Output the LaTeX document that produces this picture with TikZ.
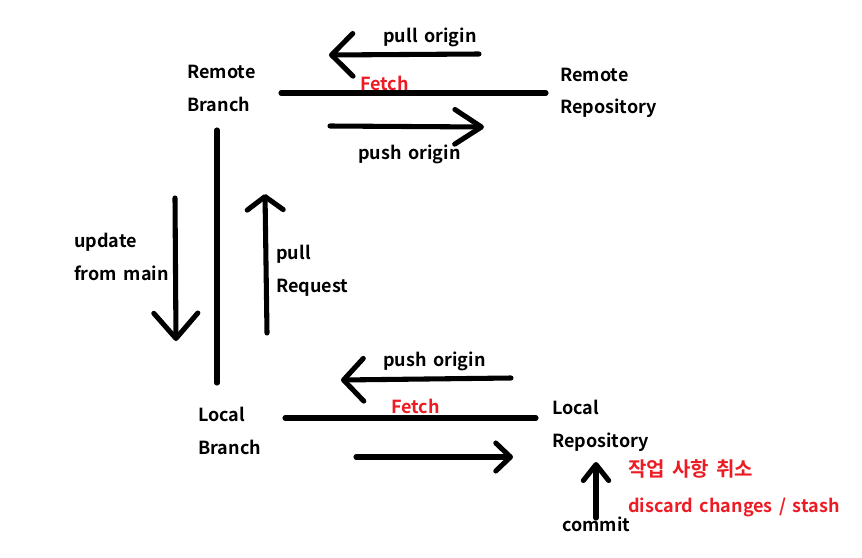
\documentclass[tikz,border=0pt]{standalone}
\usepackage{fontspec}
\setmainfont{Noto Sans CJK KR}[BoldFont={Noto Sans CJK KR Bold}, WordSpace=1.6]
\usetikzlibrary{arrows.meta}
\definecolor{paintred}{RGB}{237,28,36}
\tikzset{
  lbl/.style={anchor=base west, inner sep=0pt, font=\fontsize{13.5}{15}\selectfont\bfseries},
  redlbl/.style={lbl, text=paintred},
  stroke/.style={line width=3.8pt, line cap=round, line join=round},
  barb/.style n args={2}{stroke, -{Straight Barb[length=#1, width=#2, line cap=round, line join=round]}}
}
\begin{document}
\begin{tikzpicture}[x=0.75pt,y=-0.75pt]
\useasboundingbox[fill=white] (0,0) rectangle (862,557);
% text
\node[lbl] (rb1) at (187,78) {Remote};
\node[lbl] (rb2) at (187,111) {Branch};
\node[lbl] (rr1) at (560,81) {Remote};
\node[lbl] (rr2) at (560,113) {Repository};
\node[lbl] (po1) at (383,42) {pull origin};
\node[redlbl] (f1) at (360,90) {Fetch};
\node[lbl] (ps1) at (358,159) {push origin};
\node[lbl] (up1) at (74,247) {update};
\node[lbl] (up2) at (74,280) {from main};
\node[lbl] (pr1) at (276,259) {pull};
\node[lbl] (pr2) at (276,292) {Request};
\node[lbl] (lb1) at (198,421) {Local};
\node[lbl] (lb2) at (198,454) {Branch};
\node[lbl] (lr1) at (552,414) {Local};
\node[lbl] (lr2) at (552,447) {Repository};
\node[lbl] (ps2) at (383,366) {push origin};
\node[redlbl] (f2) at (391,413) {Fetch};
\node[redlbl, font=\fontsize{15}{17}\selectfont\bfseries] (kr) at (628,476) {작업 사항 취소};
\node[redlbl] (dc) at (628,512) {discard changes / stash};
\node[lbl] (cm) at (562,531) {commit};
% coordinates
\coordinate (t1a) at (281,93); \coordinate (t1b) at (546,93);
\coordinate (pa) at (479,54); \coordinate (pb) at (329,55);
\coordinate (qa) at (330,126); \coordinate (qb) at (484,127);
\coordinate (va) at (217,130); \coordinate (vb) at (217,383);
\coordinate (da) at (175,198); \coordinate (db) at (176,341);
\coordinate (ua) at (267,333); \coordinate (ub) at (265,194);
\coordinate (b1a) at (285,418); \coordinate (b1b) at (536,418);
\coordinate (ra) at (511,378); \coordinate (rb) at (341,380);
\coordinate (sa) at (356,457); \coordinate (sb) at (513,457);
\coordinate (ca) at (596,518); \coordinate (cb) at (596,462);
% connectors
\draw[stroke] (t1a) -- (t1b);
\draw[barb={16pt}{32pt}] (pa) -- (pb);
\draw[barb={20pt}{26pt}] (qa) -- (qb);
\draw[stroke] (va) -- (vb);
\draw[barb={19pt}{33pt}] (da) -- (db);
\draw[barb={10pt}{27pt}] (ua) -- (ub);
\draw[stroke] (b1a) -- (b1b);
\draw[barb={15pt}{32pt}] (ra) -- (rb);
\draw[barb={11pt}{21pt}] (sa) -- (sb);
\draw[barb={12pt}{19pt}] (ca) -- (cb);
\end{tikzpicture}
\end{document}
